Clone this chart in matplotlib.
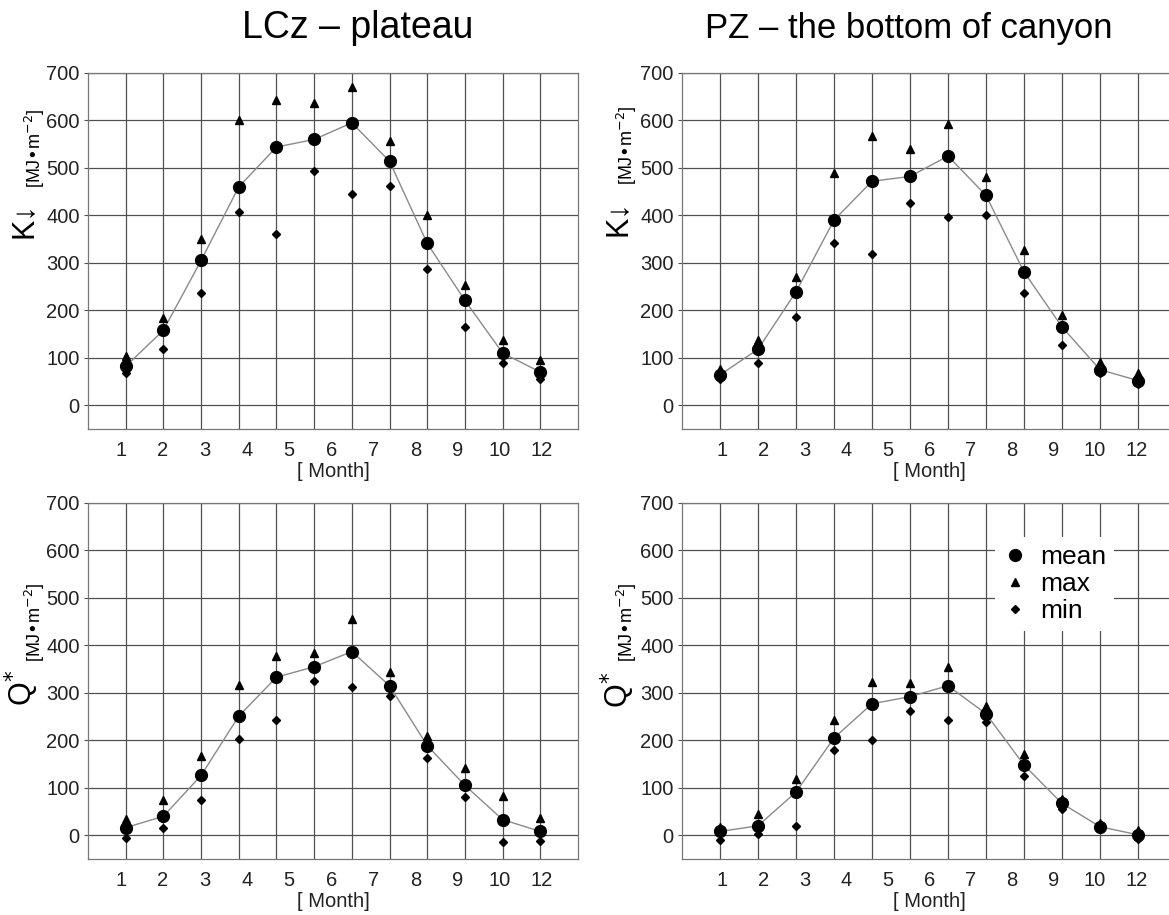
import matplotlib
matplotlib.use("Agg")
import matplotlib.pyplot as plt
import numpy as np

plt.rcParams['font.family'] = ['Liberation Sans', 'DejaVu Sans']

months = np.arange(1, 13)
month_labels = ['1', '2', '3', '4', '5', '6', '7', '8', '9', '10', '12']

k_lcz_mean = [82, 158, 305, 460, 544, 560, 595, 514, 341, 221, 110, 70]
k_lcz_max = [103, 184, 350, 600, 644, 636, 671, 557, 400, 254, 137, 95]
k_lcz_min = [67, 118, 237, 407, 360, 494, 446, 462, 288, 164, 88, 56]

k_pz_mean = [64, 118, 239, 390, 472, 482, 525, 442, 281, 165, 75, 52]
k_pz_max = [77, 138, 270, 490, 567, 539, 593, 481, 328, 191, 92, 68]
k_pz_min = [56, 90, 186, 341, 318, 426, 397, 400, 237, 127, 68, 44]

q_lcz_mean = [16, 40, 126, 251, 333, 355, 387, 315, 189, 105, 33, 8]
q_lcz_max = [35, 74, 167, 316, 377, 383, 455, 344, 210, 141, 82, 36]
q_lcz_min = [-5, 16, 74, 202, 242, 324, 312, 293, 162, 81, -14, -13]

q_pz_mean = [8, 20, 91, 205, 277, 292, 315, 256, 148, 67, 18, 1]
q_pz_max = [18, 44, 118, 242, 322, 321, 355, 272, 171, 77, 26, 12]
q_pz_min = [-11, 2, 20, 179, 200, 261, 242, 238, 124, 56, 14, -7]

W, H = 1169, 915
fig = plt.figure(figsize=(W / 100, H / 100), dpi=100)

GRID = '#505050'


def px_axes(left, top, right, bottom):
    return fig.add_axes([left / W, 1 - bottom / H, (right - left) / W, (bottom - top) / H])


def draw(ax, mean, mx, mn, label_pos):
    ax.set_xlim(0, 13)
    ax.set_ylim(-50, 700)
    ax.set_xticks(months, minor=True)
    ax.set_xticks(label_pos)
    ax.set_xticklabels(month_labels)
    ax.set_yticks(np.arange(0, 701, 100))
    ax.grid(True, which='minor', axis='x', color=GRID, lw=0.9)
    ax.grid(True, which='major', axis='y', color=GRID, lw=0.9)
    ax.tick_params(axis='x', which='both', length=0, labelsize=14.5, pad=9, colors='#222222')
    ax.tick_params(axis='y', length=3, labelsize=14.5, pad=3, colors='#222222', color=GRID)
    for s in ax.spines.values():
        s.set_color('#777777')
        s.set_linewidth(0.9)
    ax.plot(months, mean, color='#8a8a8a', lw=1.0, zorder=2)
    ax.plot(months, mx, ls='none', marker='^', ms=6, color='black', zorder=3, label='max')
    ax.plot(months, mn, ls='none', marker='D', ms=4.2, color='black', zorder=3, label='min')
    ax.plot(months, mean, ls='none', marker='o', ms=8.5, color='black', zorder=4, label='mean')
    ax.set_xlabel('[ Month]', fontsize=14.5, labelpad=1, color='#222222')


left_pos = np.linspace(0.87, 12.04, 11)
right_pos = np.linspace(1.05, 11.96, 11)

ax1 = px_axes(88, 73, 578, 429)
draw(ax1, k_lcz_mean, k_lcz_max, k_lcz_min, left_pos)
ax2 = px_axes(682, 73, 1176, 429)
draw(ax2, k_pz_mean, k_pz_max, k_pz_min, right_pos)
ax3 = px_axes(88, 503, 578, 859)
draw(ax3, q_lcz_mean, q_lcz_max, q_lcz_min, left_pos)
ax4 = px_axes(682, 503, 1176, 859)
draw(ax4, q_pz_mean, q_pz_max, q_pz_min, right_pos)

# titles
fig.text(358 / W, 1 - 38 / H, 'LCz – plateau', fontsize=27, ha='center', va='baseline')
fig.text(909 / W, 1 - 38 / H, 'PZ – the bottom of canyon', fontsize=25, ha='center', va='baseline')

# y labels
unit = '[MJ•m$^{-2}$]'
for (xk, xu, yk, yu, sym) in [
    (24, 35, 220, 148, 'K↓'),
    (618, 627, 218, 145, 'K↓'),
    (22, 35, 688, 622, 'Q$^{*}$'),
    (618, 627, 690, 622, 'Q$^{*}$'),
]:
    fig.text(xk / W, 1 - yk / H, sym, fontsize=22, rotation=90, ha='center', va='center')
    fig.text(xu / W, 1 - yu / H, unit, fontsize=13, rotation=90, ha='center', va='center')

# legend
h, l = ax4.get_legend_handles_labels()
order = [2, 0, 1]
leg = fig.legend([h[i] for i in order], [l[i] for i in order],
                 loc='upper left', bbox_to_anchor=(982 / W, 1 - 524 / H),
                 fontsize=19, frameon=True, framealpha=1, edgecolor='none',
                 facecolor='white', handlelength=0.9, handletextpad=0.5,
                 labelspacing=0.12, borderpad=0.3, fancybox=False)

fig.savefig('out.png', dpi=100)
